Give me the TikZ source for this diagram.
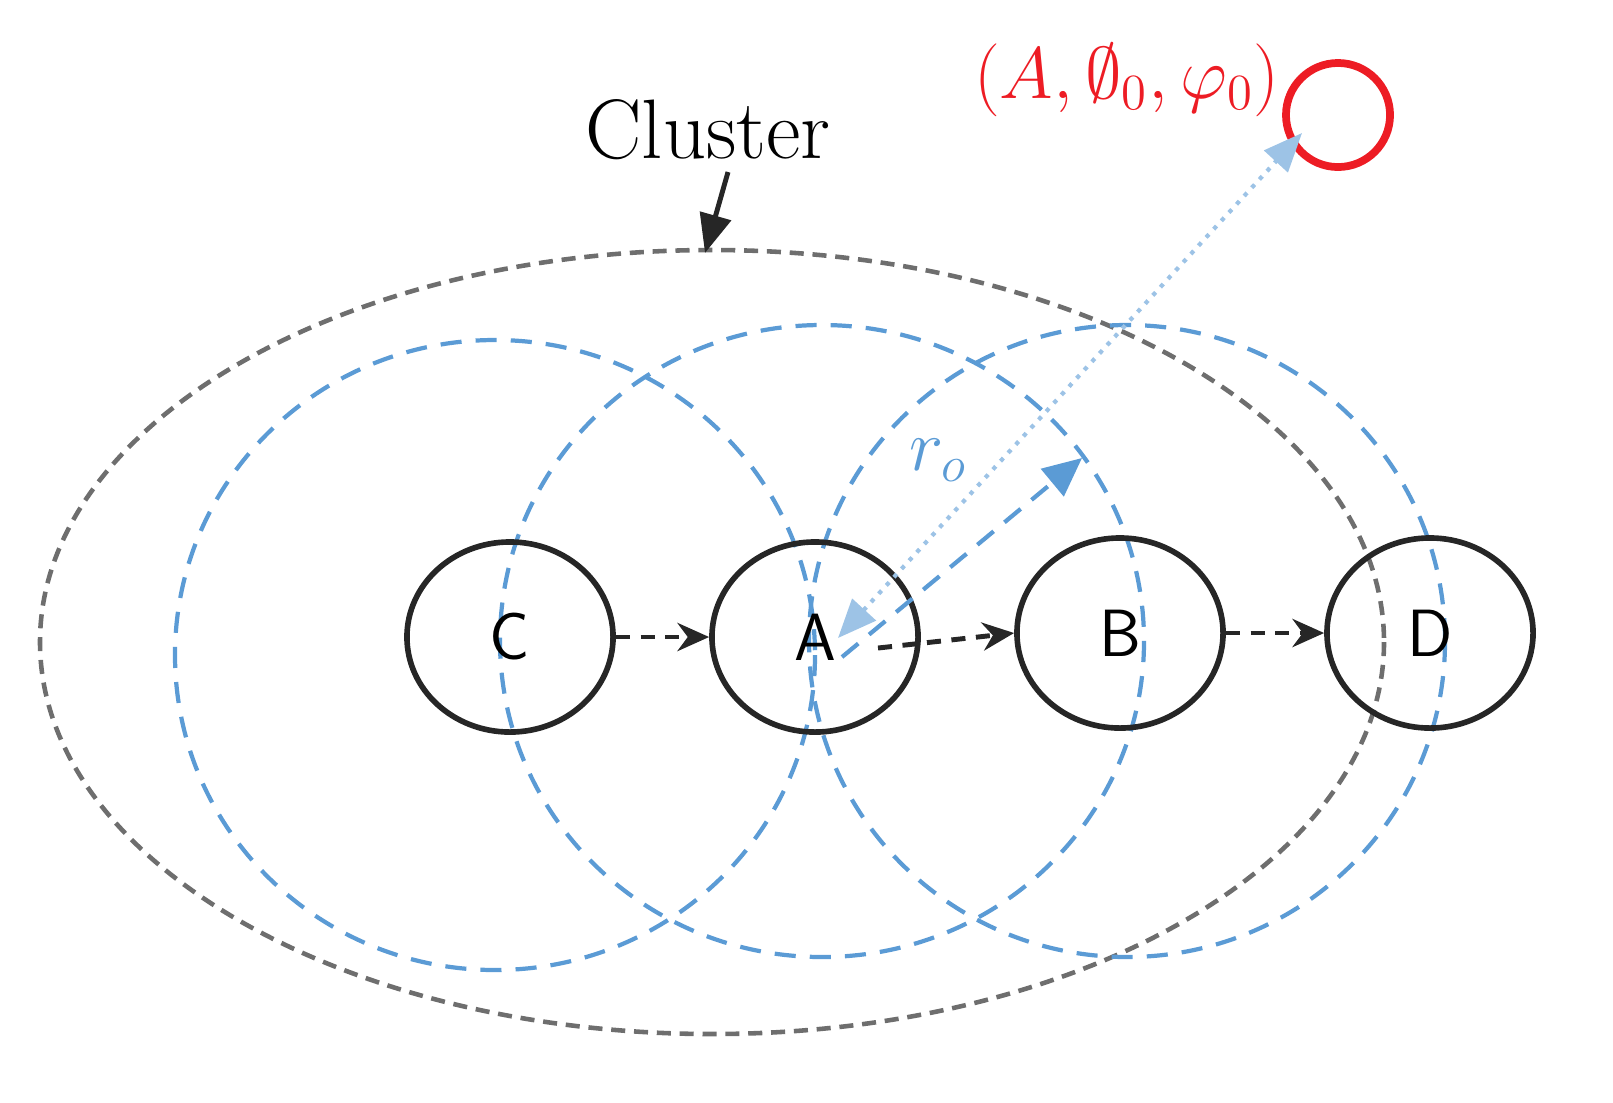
\documentclass[tikz,border=0pt]{standalone}
\usepackage{tikz}
\usetikzlibrary{arrows.meta, positioning, shapes.geometric}
\usepackage{amsmath}
\usepackage{amssymb}
\definecolor{rangeblue}{RGB}{91,155,213}
\definecolor{lightblue}{RGB}{157,195,230}
\definecolor{markred}{RGB}{237,28,36}
\definecolor{clustergray}{RGB}{110,110,110}
\tikzset{
  vehicle/.style={draw=black!85, line width=1.6pt, ellipse, minimum width=2.06cm, minimum height=1.9cm, font=\sffamily\fontsize{19}{19}\selectfont},
  commrange/.style={draw=rangeblue, line width=1.2pt, dash pattern=on 6pt off 4pt},
  move/.style={-{Stealth[length=9pt,width=8pt]}, line width=1.4pt, dash pattern=on 4pt off 3pt, draw=black!85},
}
\begin{document}
\begin{tikzpicture}[x=0.01cm, y=-0.01cm]
    \useasboundingbox (0,0) rectangle (1613,1102);
    % cluster
    \draw[clustergray, line width=1.3pt, dash pattern=on 4pt off 2.5pt] (712,642) ellipse [x radius=672, y radius=392];
    % ranges
    \draw[commrange] (495,655) ellipse [x radius=320, y radius=315];
    \draw[commrange] (822,641) ellipse [x radius=322, y radius=316];
    \draw[commrange] (1127,641) ellipse [x radius=318, y radius=316];
    % vehicles
    \node [vehicle] (C) at (510,637) {C};
    \node [vehicle] (A) at (815,637) {A};
    \node [vehicle] (B) at (1120,633) {B};
    \node [vehicle] (D) at (1430,633) {D};
    % movement
    \draw[move] (C.east) -- (A.west);
    \draw[move] (878,648) -- (B.west);
    \draw[move] (B.east) -- (D.west);
    % radius
    \coordinate (rs) at (842,657);
    \coordinate (re) at (1082,458);
    \draw[rangeblue, line width=1.2pt, dash pattern=on 6pt off 4pt, -{Triangle[length=11pt,width=10pt]}] (rs) -- (re);
    \node [rangeblue, font=\fontsize{21}{21}\selectfont] (ro) at (938,460) {$r_o$};
    % virtual node
    \node [draw=markred, circle, line width=2.2pt, minimum size=1.04cm] (V) at (1338,115) {};
    \node [markred, font=\fontsize{21}{21}\selectfont, anchor=east] (Vl) at (1292,80) {$(A,\emptyset_0,\varphi_0)$};
    \coordinate (as) at (838,638);
    \coordinate (ae) at (1302,133);
    \draw[lightblue, line width=1.2pt, dotted, {Triangle[length=11pt,width=9pt]}-{Triangle[length=11pt,width=9pt]}] (as) -- (ae);
    % label
    \node [font=\fontsize{24}{24}\selectfont] (cl) at (708,130) {Cluster};
    \coordinate (ct) at (705,253);
    \draw[-{Triangle[length=11pt,width=9pt]}, line width=1.4pt, black!85] (728,172) -- (ct);
\end{tikzpicture}
\end{document}
